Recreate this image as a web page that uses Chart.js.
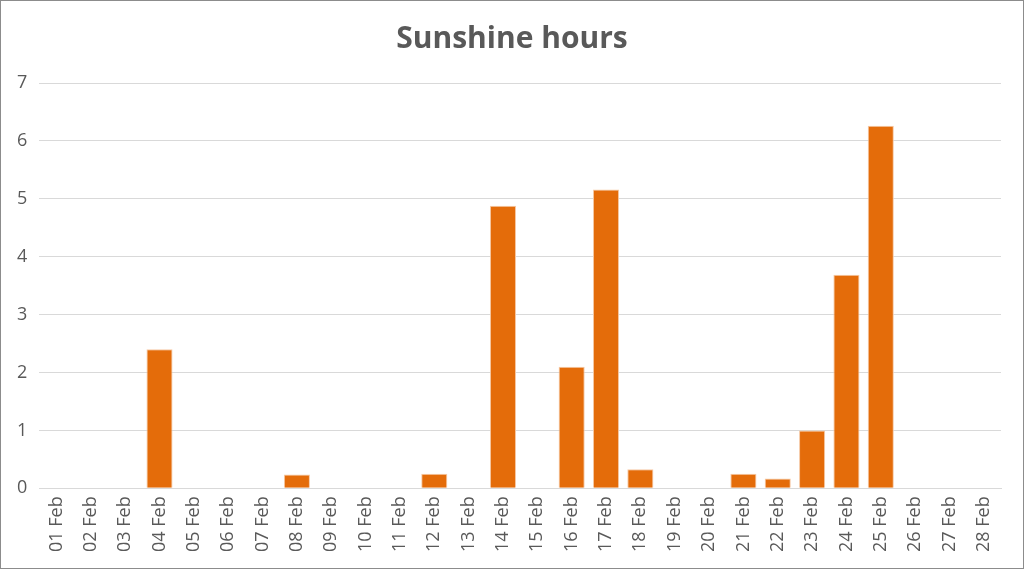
<!DOCTYPE html>
<html>
<head>
<meta charset="utf-8">
<script src="https://cdn.jsdelivr.net/npm/chart.js@4"></script>
<style>
  html, body { margin: 0; padding: 0; background: #fff; }
  #wrap {
    position: relative;
    width: 1022px;
    height: 567px;
    border: 1px solid #8c8c8c;
  }
</style>
</head>
<body>
<div id="wrap"><canvas id="sunChart"></canvas></div>
<script>
// === Data ===
const days = [
  "01 Feb", "02 Feb", "03 Feb", "04 Feb", "05 Feb", "06 Feb", "07 Feb",
  "08 Feb", "09 Feb", "10 Feb", "11 Feb", "12 Feb", "13 Feb", "14 Feb",
  "15 Feb", "16 Feb", "17 Feb", "18 Feb", "19 Feb", "20 Feb", "21 Feb",
  "22 Feb", "23 Feb", "24 Feb", "25 Feb", "26 Feb", "27 Feb", "28 Feb"
];
const sunshineHours = [
  0, 0, 0, 2.4, 0, 0, 0,
  0.24, 0, 0, 0, 0.25, 0, 4.88,
  0, 2.1, 5.16, 0.33, 0, 0, 0.25,
  0.17, 1.0, 3.69, 6.26, 0, 0, 0
];
const yTicks = [0, 1, 2, 3, 4, 5, 6, 7];

const textGrey = "#595959";
const fontFam = "'Open Sans', 'Liberation Sans', sans-serif";

// centre the title on the whole canvas, not on the padded area
const centreTitle = {
  id: "centreTitle",
  afterLayout(chart) {
    const t = chart.titleBlock;
    if (!t) return;
    t.left = 0;
    t.right = chart.width;
    t.width = chart.width;
  },
};

// === Chart ===
window.sunChart = new Chart(document.getElementById("sunChart"), {
  type: "bar",
  data: {
    labels: days,
    datasets: [
      {
        label: "Sunshine hours",
        data: sunshineHours,
        backgroundColor: "#E46C0A",
        borderColor: "#F6C9A5",
        borderWidth: 1,
        categoryPercentage: 1,
        barPercentage: 0.76,
      },
    ],
  },
  plugins: [centreTitle],
  options: {
    responsive: true,
    maintainAspectRatio: false,
    animation: false,
    layout: { padding: { left: 4, right: 22, top: 20, bottom: 8 } },
    plugins: {
      legend: { display: false },
      tooltip: { enabled: false },
      title: {
        display: true,
        text: "Sunshine hours",
        color: textGrey,
        font: { family: fontFam, size: 30, weight: "bold" },
        padding: { top: 0, bottom: 26 },
      },
    },
    scales: {
      x: {
        grid: { display: false, drawTicks: false },
        border: { color: "#d9d9d9", width: 1 },
        ticks: {
          color: textGrey,
          font: { family: fontFam, size: 18 },
          minRotation: 90,
          maxRotation: 90,
          autoSkip: false,
          padding: 8,
        },
      },
      y: {
        min: 0,
        max: 7,
        afterBuildTicks: (axis) => {
          axis.ticks = yTicks.map((v) => ({ value: v }));
        },
        grid: { color: "#d9d9d9", lineWidth: 1, drawTicks: false },
        border: { display: false },
        ticks: {
          color: textGrey,
          font: { family: fontFam, size: 18 },
          padding: 12,
        },
      },
    },
  },
});
</script>
</body>
</html>
